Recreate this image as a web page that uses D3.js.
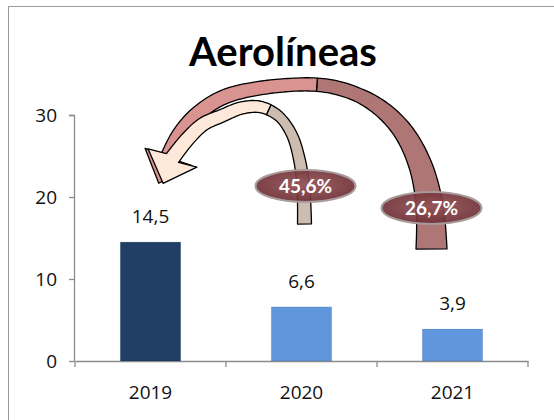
<!DOCTYPE html>
<html><head><meta charset="utf-8">
<script src="https://cdn.jsdelivr.net/npm/d3@7"></script>
<style>body{margin:0;background:#fff}svg{display:block}</style>
</head><body><svg id="c" width="554" height="420"></svg>
<script>
const categories = ["2019", "2020", "2021"];
const values = [14.5, 6.6, 3.9];
const valueLabels = ["14,5", "6,6", "3,9"];
const yTicks = [0, 10, 20, 30];
const changeLabels = ["45,6%", "26,7%"];
const barColors = ["#213f64", "#6096dc", "#6096dc"];
const title = "Aerolíneas";

const svg = d3.select("#c");
const font = "'Open Sans', sans-serif";
const tfont = "Lato, 'Open Sans', sans-serif";

// frame
svg.append("rect").attr("x", 8.5).attr("y", 6.5).attr("width", 560).attr("height", 430)
  .attr("fill", "none").attr("stroke", "#9a9a9a").attr("stroke-width", 1);

const x = d3.scaleBand().domain(categories).range([75, 528]).paddingInner(0.6).paddingOuter(0.3);
const y = d3.scaleLinear().domain([0, 30]).range([361, 115]);

// title
svg.append("text").attr("x", 283).attr("y", 66).attr("text-anchor", "middle")
  .attr("font-family", tfont).attr("font-weight", "bold").attr("font-size", 40).attr("fill", "#000").text(title);

// axes
const gy = svg.append("g").attr("transform", "translate(74,0)")
  .call(d3.axisLeft(y).tickValues(yTicks).tickSize(5).tickPadding(12));
const xb = d3.scaleBand().domain(categories).range([75, 528]);
const gx = svg.append("g").attr("transform", "translate(0,361)")
  .call(d3.axisBottom(xb).tickSize(0).tickPadding(25));
[gy, gx].forEach(g => {
  g.select(".domain").attr("stroke", "#8c8c8c").attr("stroke-width", 1.3);
  g.selectAll(".tick line").attr("stroke", "#8c8c8c").attr("stroke-width", 1.3);
  g.selectAll("text").attr("font-family", font).attr("font-size", 19).attr("fill", "#111");
});
gy.select(".domain").attr("d", "M-5,115.5H0.5V361.5");
gx.selectAll(".bt").data([75, 226, 377, 528]).enter().append("line")
  .attr("x1", d => d).attr("x2", d => d).attr("y1", 0).attr("y2", 6)
  .attr("stroke", "#8c8c8c").attr("stroke-width", 1.3);

// bars
svg.append("g").selectAll("rect").data(values).enter().append("rect")
  .attr("x", (d, i) => x(categories[i])).attr("width", x.bandwidth())
  .attr("y", d => y(d)).attr("height", d => y(0) - y(d))
  .attr("fill", (d, i) => barColors[i])
  .attr("stroke", "rgba(0,0,0,0.08)").attr("stroke-width", 1);

svg.append("g").selectAll("text").data(values).enter().append("text")
  .attr("x", (d, i) => x(categories[i]) + x.bandwidth() / 2)
  .attr("y", d => y(d) - 19).attr("text-anchor", "middle")
  .attr("font-family", font).attr("font-size", 19).attr("fill", "#111")
  .text((d, i) => valueLabels[i]);

// ---------- curved ribbon arrows ----------
const tmp = svg.append("path").attr("fill", "none").attr("stroke", "none");
function ribbon(pts, widthStops, split, backCol, frontCol, head) {
  tmp.attr("d", d3.line().curve(d3.curveCatmullRom.alpha(0.5))(pts));
  const node = tmp.node(), L = node.getTotalLength(), N = 140;
  const S = d3.range(N + 1).map(i => node.getPointAtLength(L * i / N));
  const wf = d3.scaleLinear().domain(widthStops.map(s => s[0])).range(widthStops.map(s => s[1]));
  const left = [], right = [];
  S.forEach((p, i) => {
    const a = S[Math.max(0, i - 1)], b = S[Math.min(N, i + 1)];
    let dx = b.x - a.x, dy = b.y - a.y; const m = Math.hypot(dx, dy); dx /= m; dy /= m;
    const w = wf(i / N) / 2;
    left.push([p.x - dy * w, p.y + dx * w]);
    right.push([p.x + dy * w, p.y - dx * w]);
  });
  const k = Math.round(split * N);
  const poly = (a, b) => "M" + left.slice(a, b + 1).map(p => p.join(",")).join("L") +
    "L" + right.slice(a, b + 1).reverse().map(p => p.join(",")).join("L") + "Z";
  const g = svg.append("g").attr("stroke", "#000").attr("stroke-width", 1.3).attr("stroke-linejoin", "round");
  g.append("path").attr("d", poly(0, k)).attr("fill", backCol);
  const E = S[N];
  let dx = head.dir[0], dy = head.dir[1]; const m = Math.hypot(dx, dy); dx /= m; dy /= m;
  const nx = -dy, ny = dx;
  const b1 = [E.x + nx * head.half, E.y + ny * head.half];
  const b2 = [E.x - nx * head.half, E.y - ny * head.half];
  const tip = [E.x + dx * head.len, E.y + dy * head.len];
  let d = "M" + left.slice(k, N + 1).map(p => p.join(",")).join("L");
  d += "L" + b1.join(",") + "L" + tip.join(",") + "L" + b2.join(",");
  d += "L" + right.slice(k, N + 1).reverse().map(p => p.join(",")).join("L") + "Z";
  g.append("path").attr("d", d).attr("fill", frontCol);
}

const cx20 = x("2020") + x.bandwidth() / 2, cx21 = x("2021") + x.bandwidth() / 2;

// big arrow: 2021 -> 2019
ribbon([[cx21 - 21, 249], [cx21 - 23, 205], [cx21 - 33, 163], [cx21 - 52, 128], [cx21 - 81, 102], [cx21 - 119, 87],
        [cx21 - 164, 85], [cx21 - 226, 96], [cx21 - 255, 114], [cx21 - 273, 135], [cx21 - 284, 157]],
  [[0, 31], [0.45, 14], [0.62, 13], [1, 16]], 0.56, "#ae7674", "#d99491",
  {dir: [-0.35, 0.94], half: 25, len: 28});

// small arrow: 2020 -> 2019
ribbon([[cx20 + 3, 224], [cx20 + 2, 190], [cx20 - 2, 160], [cx20 - 10, 134], [cx20 - 23, 116], [cx20 - 41, 107],
        [cx20 - 60, 108], [cx20 - 80, 116], [cx20 - 98, 124], [cx20 - 114, 139], [cx20 - 129, 158]],
  [[0, 14], [0.45, 10], [0.6, 12], [1, 15]], 0.52, "#cdbcb0", "#fde8da",
  {dir: [-0.35, 0.94], half: 26, len: 27});

// ellipses with percentage
const defs = svg.append("defs");
const rg = defs.append("radialGradient").attr("id", "eg").attr("cx", "50%").attr("cy", "45%").attr("r", "60%");
rg.append("stop").attr("offset", "0%").attr("stop-color", "#935156");
rg.append("stop").attr("offset", "100%").attr("stop-color", "#6a2b30");
const ell = [{cx: cx20 + 4, cy: 186, t: changeLabels[0]}, {cx: cx21 - 21, cy: 208, t: changeLabels[1]}];
const eg = svg.append("g").selectAll("g").data(ell).enter().append("g");
eg.append("ellipse").attr("cx", d => d.cx).attr("cy", d => d.cy).attr("rx", 50).attr("ry", 16)
  .attr("fill", "url(#eg)").attr("fill-opacity", 0.92).attr("stroke", "#a89a9a").attr("stroke-width", 2);
eg.append("text").attr("x", d => d.cx).attr("y", d => d.cy + 7).attr("text-anchor", "middle")
  .attr("font-family", tfont).attr("font-weight", "bold").attr("font-size", 19).attr("fill", "#fff")
  .text(d => d.t);
</script></body></html>
